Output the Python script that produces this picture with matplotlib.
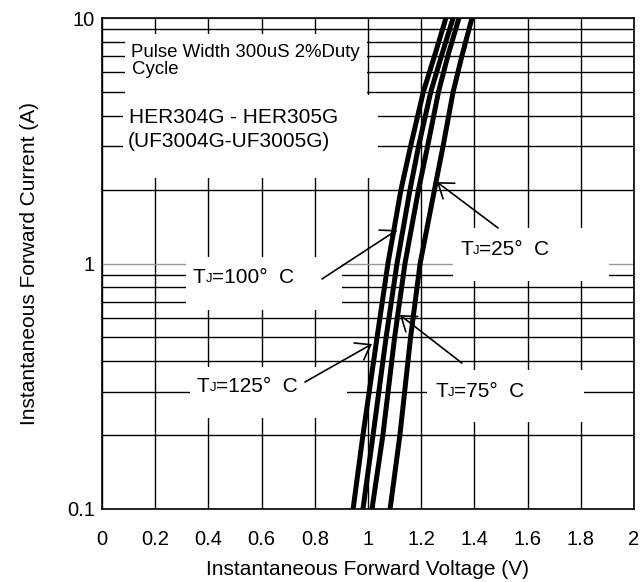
import matplotlib

matplotlib.use("Agg")
import matplotlib.pyplot as plt
from matplotlib.patches import Rectangle
from matplotlib.ticker import FixedLocator, NullFormatter

plt.rcParams["font.family"] = ["Liberation Sans", "DejaVu Sans"]

# Forward current (A) and the voltage read for each junction temperature
current = [0.1, 0.2, 0.5, 1, 2, 3, 5, 7, 10]
v_125 = [0.944, 0.981, 1.034, 1.075, 1.124, 1.160, 1.208, 1.250, 1.293]
v_100 = [0.981, 1.019, 1.068, 1.109, 1.158, 1.190, 1.236, 1.276, 1.320]
v_75 = [1.015, 1.056, 1.100, 1.139, 1.190, 1.224, 1.265, 1.300, 1.342]
v_25 = [1.083, 1.120, 1.160, 1.196, 1.250, 1.282, 1.320, 1.353, 1.391]

x_ticks = [0, 0.2, 0.4, 0.6, 0.8, 1, 1.2, 1.4, 1.6, 1.8, 2]
x_labels = ["0", "0.2", "0.4", "0.6", "0.8", "1", "1.2", "1.4", "1.6", "1.8", "2"]
y_ticks = [0.1, 1, 10]
y_labels = ["0.1", "1", "10"]
y_minor = [0.2, 0.3, 0.4, 0.5, 0.6, 0.7, 0.8, 0.9, 2, 3, 4, 5, 6, 7, 8, 9]

fig = plt.figure(figsize=(6.41, 5.82), dpi=100)
ax = fig.add_axes([102 / 641, 1 - 509 / 582, 532 / 641, 491 / 582])
ax.set_yscale("log")
ax.set_xlim(0, 2)
ax.set_ylim(0.1, 10)

ax.set_xticks(x_ticks)
ax.set_xticklabels(x_labels)
ax.set_yticks(y_ticks)
ax.set_yticklabels(y_labels)
ax.yaxis.set_minor_locator(FixedLocator(y_minor))
ax.yaxis.set_minor_formatter(NullFormatter())
ax.tick_params(which="both", length=0, labelsize=14.5)
ax.tick_params(axis="x", pad=15)
ax.tick_params(axis="y", pad=5)

ax.set_axisbelow(True)
ax.grid(which="major", axis="x", color="black", lw=1.0)
ax.grid(which="minor", axis="y", color="black", lw=1.0)
ax.grid(which="major", axis="y", color="#999999", lw=1.0)
for sp in ax.spines.values():
    sp.set_linewidth(1.2)

# white areas behind the labels (grid is cut there)
boxes = [
    (0.086, 0.996, 4.86, 8.61),
    (0.079, 1.038, 2.23, 4.86),
    (1.320, 1.906, 0.848, 1.395),
    (0.316, 0.902, 0.647, 1.063),
    (0.331, 0.921, 0.235, 0.379),
    (1.222, 1.812, 0.226, 0.368),
]
for x0, x1, y0, y1 in boxes:
    ax.add_patch(Rectangle((x0, y0), x1 - x0, y1 - y0, facecolor="white",
                           edgecolor="none", zorder=1))

for v in [v_125, v_100, v_75, v_25]:
    ax.plot(v, current, color="black", lw=3.6, solid_capstyle="butt", zorder=3)

ax.text(0.109, 6.94, "Pulse Width 300uS 2%Duty", fontsize=13.4, zorder=4)
ax.text(0.113, 5.91, "Cycle", fontsize=13.4, zorder=4)
ax.text(0.102, 3.74, "HER304G - HER305G", fontsize=15, zorder=4)
ax.text(0.098, 2.98, "(UF3004G-UF3005G)", fontsize=15, zorder=4)


def tj_label(x, y, temp):
    t = ax.text(x, y, "T", fontsize=15, va="baseline", zorder=4)
    j = ax.annotate("J", xy=(1, 0), xycoords=t, xytext=(0, 1.2),
                    textcoords="offset points", fontsize=9.5, va="bottom", zorder=4)
    ax.annotate("=" + temp + "°  C", xy=(1, 0), xycoords=(j, t), fontsize=15,
                va="bottom", zorder=4)


tj_label(0.342, 0.833, "100")
tj_label(0.357, 0.2996, "125")
tj_label(1.346, 1.083, "25")
tj_label(1.252, 0.286, "75")

arrows = [
    ((1.259, 2.148), (1.489, 1.395)),
    ((1.109, 1.369), (0.827, 0.865)),
    ((1.015, 0.470), (0.763, 0.329)),
    ((1.120, 0.617), (1.353, 0.393)),
]
for tip, tail in arrows:
    ax.annotate("", xy=tip, xytext=tail, zorder=4,
                arrowprops=dict(arrowstyle="->,head_length=0.7,head_width=0.5",
                                mutation_scale=14, lw=1.2, color="black",
                                shrinkA=0, shrinkB=0))

ax.set_xlabel("Instantaneous Forward Voltage (V)", fontsize=15, labelpad=8)
ax.set_ylabel("Instantaneous Forward Current (A)", fontsize=15, labelpad=20)

fig.savefig("out.png", dpi=100)
